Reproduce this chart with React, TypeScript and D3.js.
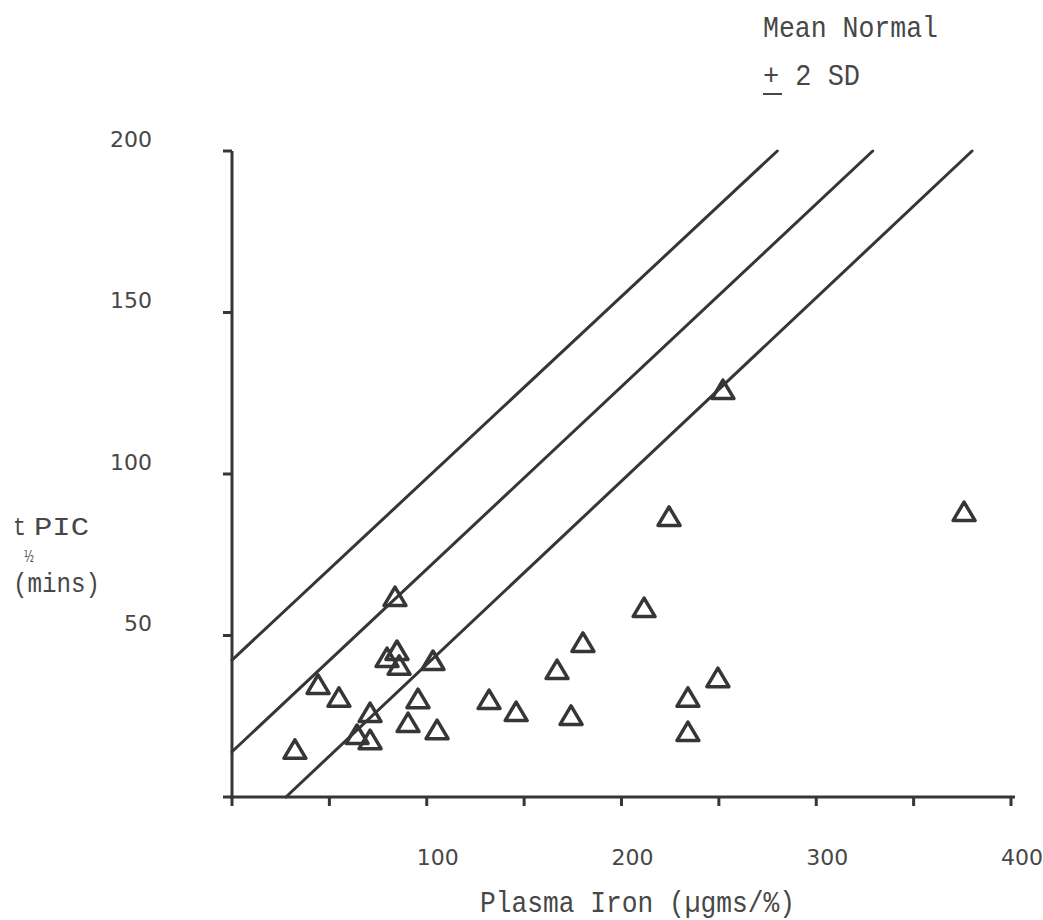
import React from "react";
import * as d3 from "d3";

// Plasma Iron (µgms/%) vs t½ PIC (mins)
const pointsX = [32.3, 44.2, 54.9, 64.2, 70.9, 70.9, 79.6, 84.7, 85.8, 83.7, 90.4, 95.5, 103.2, 105.3, 132.0, 145.9, 174.1, 166.9, 180.2, 211.6, 224.4, 234.1, 234.1, 249.5, 252.1, 375.9];
const pointsY = [14.6, 34.7, 30.7, 19.2, 26.0, 17.6, 43.0, 45.2, 40.6, 61.9, 22.9, 30.3, 42.1, 20.7, 30.0, 26.3, 25.1, 39.3, 47.7, 58.5, 86.7, 30.7, 20.1, 36.8, 126.0, 88.2];

// Mean normal line and ±2 SD lines: [x0, y0, x1, y1]
const upperLine = [0, 42.4, 280, 200];
const meanLine = [0, 14, 329, 200];
const lowerLine = [27.7, 0, 380, 200];
const refLines = [upperLine, meanLine, lowerLine];

const xTickValues = [0, 50, 100, 150, 200, 250, 300, 350, 400];
const xLabelValues = [100, 200, 300, 400];
const yTickValues = [0, 50, 100, 150, 200];
const yLabelValues = [50, 100, 150, 200];

const INK = "#363636";
const TEXT = "#474747";
const MONO = "'Liberation Mono', 'DejaVu Sans Mono', monospace";
const SANS = "'DejaVu Sans', 'Liberation Sans', sans-serif";

export default function App() {
  const x = d3.scaleLinear().domain([0, 400]).range([232, 1011]);
  const y = d3.scaleLinear().domain([0, 200]).range([797, 151]);
  const tri = "M0,-10 L11,8.5 L-11,8.5 Z";

  return (
    <svg
      width={1043}
      height={920}
      style={{ position: "absolute", left: 0, top: 0, background: "#fff" }}
    >
      <rect width={1043} height={920} fill="#fff" />
      {/* axes */}
      <line x1={x(0)} x2={x(0)} y1={y(0) + 2} y2={y(200)} stroke={INK} strokeWidth={3} />
      <line x1={x(0) - 2} x2={x(400) + 4} y1={y(0)} y2={y(0)} stroke={INK} strokeWidth={3} />
      {yTickValues.map((v) => (
        <line key={"yt" + v} x1={x(0) - 9} x2={x(0)} y1={y(v)} y2={y(v)} stroke={INK} strokeWidth={3} />
      ))}
      {xTickValues.map((v) => (
        <line key={"xt" + v} x1={x(v)} x2={x(v)} y1={y(0)} y2={y(0) + 9} stroke={INK} strokeWidth={3} />
      ))}
      {yLabelValues.map((v) => (
        <text
          key={"yl" + v}
          x={152}
          y={y(v) - 12}
          textAnchor="end"
          dominantBaseline="central"
          fontFamily={SANS}
          fontSize={22}
          fill={TEXT}
        >
          {v}
        </text>
      ))}
      {xLabelValues.map((v) => (
        <text
          key={"xl" + v}
          x={x(v) + 11}
          y={y(0) + 60}
          textAnchor="middle"
          dominantBaseline="central"
          fontFamily={SANS}
          fontSize={22}
          fill={TEXT}
        >
          {v}
        </text>
      ))}

      {/* reference lines */}
      {refLines.map((l, i) => (
        <line
          key={"rl" + i}
          x1={x(l[0])}
          y1={y(l[1])}
          x2={x(l[2])}
          y2={y(l[3])}
          stroke={INK}
          strokeWidth={3}
          strokeLinecap="round"
        />
      ))}

      {/* points */}
      {pointsX.map((px, i) => (
        <path
          key={"p" + i}
          d={tri}
          transform={`translate(${x(px)},${y(pointsY[i])})`}
          fill="none"
          stroke={INK}
          strokeWidth={3.5}
          strokeLinejoin="round"
        />
      ))}

      {/* axis titles */}
      <text x={480} y={912} fontFamily={MONO} fontSize={29} fill={TEXT} textLength={315} lengthAdjust="spacingAndGlyphs">
        Plasma Iron (µgms/%)
      </text>
      <text x={13} y={535} fontFamily={MONO} fontSize={26} fill={TEXT} textLength={13} lengthAdjust="spacingAndGlyphs">
        t
      </text>
      <text x={24} y={562} fontFamily={SANS} fontSize={16} fill={TEXT} textLength={10} lengthAdjust="spacingAndGlyphs">
        ½
      </text>
      <text x={34} y={535} fontFamily={MONO} fontSize={26} fill={TEXT} textLength={55} lengthAdjust="spacingAndGlyphs">
        PIC
      </text>
      <text x={13} y={592} fontFamily={MONO} fontSize={28} fill={TEXT} textLength={87} lengthAdjust="spacingAndGlyphs">
        (mins)
      </text>

      {/* legend note */}
      <text x={763} y={37} fontFamily={MONO} fontSize={29} fill={TEXT} textLength={175} lengthAdjust="spacingAndGlyphs">
        Mean Normal
      </text>
      <text x={763} y={85} fontFamily={MONO} fontSize={29} fill={TEXT} textLength={97} lengthAdjust="spacingAndGlyphs">
        + 2 SD
      </text>
      <line x1={763} x2={782} y1={94} y2={94} stroke={TEXT} strokeWidth={2} />
    </svg>
  );
}
